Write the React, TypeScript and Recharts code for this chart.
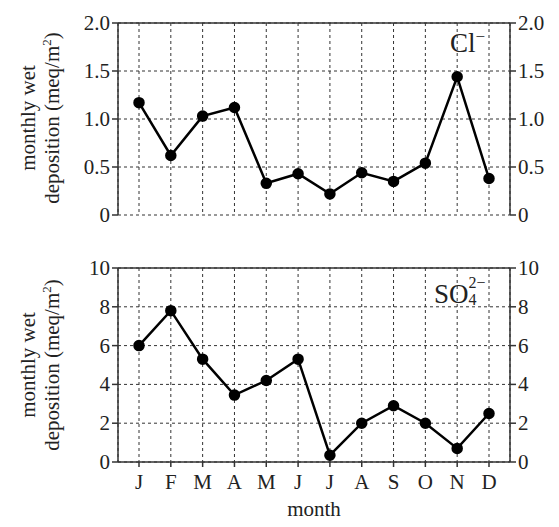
import { LineChart, Line, XAxis, YAxis, CartesianGrid, ReferenceLine } from "recharts";

const months = ["J", "F", "M", "A", "M", "J", "J", "A", "S", "O", "N", "D"];
const chloride = [1.17, 0.62, 1.03, 1.12, 0.33, 0.43, 0.22, 0.44, 0.35, 0.54, 1.44, 0.38];
const sulfate = [6.0, 7.8, 5.3, 3.45, 4.2, 5.3, 0.35, 2.0, 2.9, 2.0, 0.7, 2.5];
const clTicks = [0, 0.5, 1, 1.5, 2];
const soTicks = [0, 2, 4, 6, 8, 10];

const clData = months.map((m, i) => ({ i, m, v: chloride[i] }));
const soData = months.map((m, i) => ({ i, m, v: sulfate[i] }));

const FONT = "'Liberation Serif', 'DejaVu Serif', serif";

const makeTick = (anchor: string, fmt: (v: any) => string, dy: number) => (p: any) => (
  <text x={p.x} y={p.y} dy={dy} textAnchor={anchor} fontFamily={FONT} fontSize={21} fill="#222">
    {fmt(p.payload.value)}
  </text>
);

function YLabel({ top }: { top: number }) {
  return (
    <div style={{ position: "absolute", left: 40, top, width: 0, height: 0 }}>
      <div
        style={{
          position: "absolute", transform: "translate(-50%, -50%) rotate(-90deg)",
          fontFamily: FONT, fontSize: 21, lineHeight: "24px", textAlign: "center",
          whiteSpace: "nowrap", color: "#222",
        }}
      >
        monthly wet<br />deposition (meq/m<sup style={{ fontSize: 13, lineHeight: 0 }}>2</sup>)
      </div>
    </div>
  );
}

function Panel({ data, ticks, max, fmt, height, margin, bottom }: any) {
  return (
    <LineChart width={559} height={height} data={data} margin={margin}>
      <CartesianGrid yAxisId="l" stroke="#333" strokeDasharray="3 3" strokeWidth={1} />
      <XAxis
        dataKey="i"
        type="category"
        padding={{ left: 21, right: 21 }}
        tick={bottom ? makeTick("middle", (v) => months[v], 20) : () => <g />}
        tickLine={bottom}
        height={bottom ? 50 : 0}
        stroke="#333"
        strokeWidth={1.5}
        tickSize={5}
        interval={0}
        label={bottom ? { value: "month", position: "insideBottom", offset: -4, style: { fontFamily: FONT, fontSize: 21, fill: "#222" } } : undefined}
      />
      <YAxis yAxisId="l" domain={[0, max]} ticks={ticks} width={118} stroke="#333" strokeWidth={1.5} tick={makeTick("end", fmt, 7)} tickSize={6} />
      <YAxis yAxisId="r" orientation="right" domain={[0, max]} ticks={ticks} width={49} stroke="#333" strokeWidth={1.5} tick={makeTick("start", fmt, 7)} tickSize={6} />
      <ReferenceLine yAxisId="l" y={max} stroke="#333" strokeWidth={1.5} />
      <Line yAxisId="r" dataKey="v" stroke="none" dot={false} activeDot={false} isAnimationActive={false} />
      <Line yAxisId="l" dataKey="v" stroke="#000" strokeWidth={2.5} dot={{ r: 4.5, fill: "#000", stroke: "#000" }} isAnimationActive={false} />
    </LineChart>
  );
}

export default function App() {
  return (
    <div style={{ position: "absolute", left: 0, top: 0, width: 559, height: 527, background: "#fff" }}>
      <div style={{ position: "absolute", left: 0, top: 0 }}>
        <Panel data={clData} ticks={clTicks} max={2} fmt={(v: number) => (v === 0 ? "0" : v.toFixed(1))} height={240} margin={{ top: 23, right: 0, left: 0, bottom: 25 }} bottom={false} />
      </div>
      <div style={{ position: "absolute", left: 0, top: 240 }}>
        <Panel data={soData} ticks={soTicks} max={10} fmt={(v: number) => String(v)} height={287} margin={{ top: 28, right: 0, left: 0, bottom: 15 }} bottom />
      </div>
      <YLabel top={118} />
      <YLabel top={365} />
      <div style={{ position: "absolute", left: 450, top: 28, fontFamily: FONT, fontSize: 27, color: "#222" }}>
        Cl<sup style={{ fontSize: 17, lineHeight: 0 }}>−</sup>
      </div>
      <div style={{ position: "absolute", left: 434, top: 279, fontFamily: FONT, fontSize: 27, lineHeight: "30px", color: "#222", display: "flex", alignItems: "flex-start" }}>
        <span>SO</span>
        <span style={{ display: "flex", flexDirection: "column", fontSize: 16, lineHeight: "17px", marginTop: -5 }}>
          <span>2−</span>
          <span>4</span>
        </span>
      </div>
    </div>
  );
}
